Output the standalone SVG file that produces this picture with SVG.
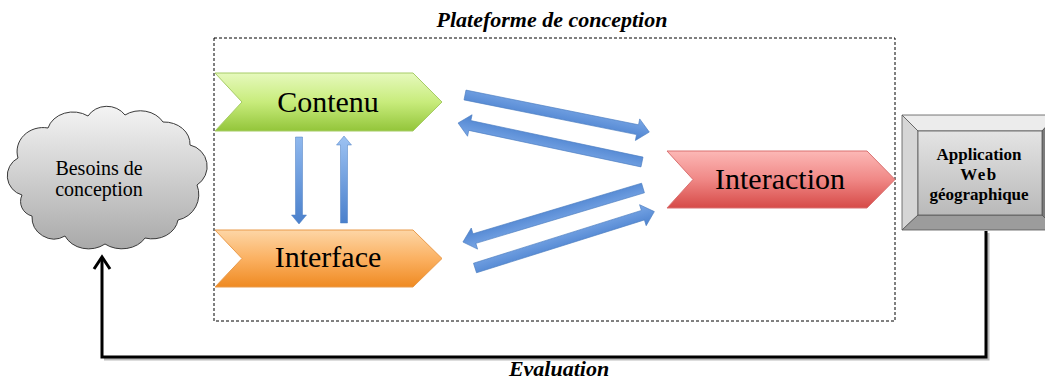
<svg xmlns="http://www.w3.org/2000/svg" width="1045" height="382" viewBox="0 0 1045 382">
<defs>
<style>
.t{font-family:"Liberation Serif","Times New Roman",serif;fill:#000;text-anchor:middle}
.big{font-size:30px}
.bi{font-weight:bold;font-style:italic;font-size:22px}
.ab{font-weight:bold;font-size:17px}
.blue{fill:url(#gBlue);stroke:#4a7cc0;stroke-width:0.6}
.vblue{stroke:#4a7cc0;stroke-width:0.5}
</style>
<linearGradient id="gGreen" x1="0" y1="0" x2="0" y2="1"><stop offset="0" stop-color="#e6f9bd"/><stop offset="0.5" stop-color="#c8ec7c"/><stop offset="1" stop-color="#93c53a"/></linearGradient>
<linearGradient id="gOrange" x1="0" y1="0" x2="0" y2="1"><stop offset="0" stop-color="#fdd6a6"/><stop offset="0.5" stop-color="#fbb162"/><stop offset="1" stop-color="#ef8a22"/></linearGradient>
<linearGradient id="gRed" x1="0" y1="0" x2="0" y2="1"><stop offset="0" stop-color="#fcb8b6"/><stop offset="0.5" stop-color="#f08886"/><stop offset="1" stop-color="#d64a47"/></linearGradient>
<linearGradient id="gCloud" x1="0" y1="0" x2="0" y2="1"><stop offset="0" stop-color="#f4f4f4"/><stop offset="1" stop-color="#a9a9a9"/></linearGradient>
<linearGradient id="gFace" x1="0" y1="0" x2="0" y2="1"><stop offset="0" stop-color="#e4e4e4"/><stop offset="1" stop-color="#b9b9b9"/></linearGradient>
<linearGradient id="gBlue" x1="0" y1="0" x2="0" y2="1"><stop offset="0" stop-color="#7aa7e6"/><stop offset="1" stop-color="#4c82cf"/></linearGradient>
<linearGradient id="gVDown" x1="0" y1="0" x2="0" y2="1"><stop offset="0" stop-color="#8fb8ee"/><stop offset="1" stop-color="#4a80cc"/></linearGradient>
<linearGradient id="gVUp" x1="0" y1="0" x2="0" y2="1"><stop offset="0" stop-color="#9dc2f2"/><stop offset="1" stop-color="#4a80cc"/></linearGradient>
<path id="diag" d="M0,-5 L176,-5 L176,-11 L188,0 L176,11 L176,5 L0,5 Z"/>
</defs>

<text class="t bi" x="552" y="27">Plateforme de conception</text>
<rect x="214" y="38" width="681" height="283" fill="none" stroke="#000" stroke-width="1" stroke-dasharray="3,2"/>

<g id="connectors">
  <path d="M988,233 L988,359 L104,359" fill="none" stroke="#bbb" stroke-width="3"/>
  <path d="M986,231 L986,357 L102,357 L102,258" fill="none" stroke="#000" stroke-width="3"/>
  <path d="M94,269 L102,257 L110,269" fill="none" stroke="#000" stroke-width="3" stroke-linejoin="miter"/>
  <g id="arrow-c-i"><use href="#diag" class="blue" transform="translate(465,95) rotate(11.37)"/></g>
  <g id="arrow-i-c"><use href="#diag" class="blue" transform="translate(642,162) rotate(191.97)"/></g>
  <g id="arrow-i-f"><use href="#diag" class="blue" transform="translate(643,188) rotate(163.3)"/></g>
  <g id="arrow-f-i"><use href="#diag" class="blue" transform="translate(475,268) rotate(-17.46)"/></g>
  <path id="arrow-c-f" class="vblue" fill="url(#gVDown)" d="M295.5,137 L302.5,137 L302.5,215 L306.5,215 L299,224 L291.5,215 L295.5,215 Z"/>
  <path id="arrow-f-c" class="vblue" fill="url(#gVUp)" d="M340.5,223 L347.5,223 L347.5,145 L351.5,145 L344,136 L336.5,145 L340.5,145 Z"/>
</g>

<g id="besoins">
  <path d="M22,195 A20,20 0 0 1 18,158 A26,24 0 0 1 48,128 A26,22 0 0 1 88,116 A22,20 0 0 1 125,115 A26,22 0 0 1 163,122 A26,22 0 0 1 190,145 A22,22 0 0 1 197,185 A26,26 0 0 1 178,220 A26,22 0 0 1 145,238 A26,20 0 0 1 105,244 A26,22 0 0 1 65,236 A22,22 0 0 1 32,216 A15,15 0 0 1 22,195 Z" fill="url(#gCloud)" stroke="#3a3a3a" stroke-width="1"/>
  <text class="t" font-size="20" x="99" y="175">Besoins de</text>
  <text class="t" font-size="20" x="99" y="196">conception</text>
</g>

<g id="contenu">
  <path d="M215,73 L413,73 L442,102 L413,131 L215,131 L242,102 Z" fill="url(#gGreen)" stroke="#a6cc66" stroke-width="1"/>
  <text class="t big" x="328" y="112">Contenu</text>
</g>

<g id="interface">
  <path d="M215,230 L413,230 L442,258.5 L413,287 L215,287 L242,258.5 Z" fill="url(#gOrange)" stroke="#e99a4a" stroke-width="1"/>
  <text class="t big" x="328" y="267">Interface</text>
</g>

<g id="interaction">
  <path d="M667,151 L867,151 L895,179.5 L867,208 L667,208 L693,179.5 Z" fill="url(#gRed)" stroke="#d97070" stroke-width="1"/>
  <text class="t big" x="780" y="189">Interaction</text>
</g>

<g id="application">
  <polygon points="902,115 1057,115 1042,131 918,131" fill="#ececec" stroke="#555" stroke-width="0.8"/>
  <polygon points="902,115 918,131 918,215 902,230" fill="#d6d6d6" stroke="#555" stroke-width="0.8"/>
  <polygon points="902,230 918,215 1042,215 1057,230" fill="#9c9c9c" stroke="#555" stroke-width="0.8"/>
  <polygon points="1057,115 1042,131 1042,215 1057,230" fill="#7c7c7c" stroke="#555" stroke-width="0.8"/>
  <rect x="918" y="131" width="124" height="84" fill="url(#gFace)" stroke="#555" stroke-width="0.8"/>
  <text class="t ab" x="979" y="160">Application</text>
  <text class="t ab" x="979" y="180" letter-spacing="1.5">Web</text>
  <text class="t ab" x="979" y="200">géographique</text>
</g>

<text class="t bi" x="559" y="376">Evaluation</text>
</svg>
